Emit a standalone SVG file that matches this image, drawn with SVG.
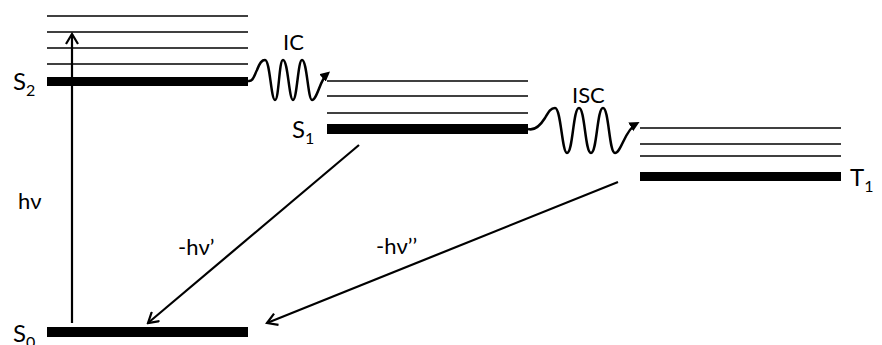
<svg xmlns="http://www.w3.org/2000/svg" width="882" height="345" viewBox="0 0 882 345">
<style>
.thin{stroke:#000;stroke-width:1.6}
.bar{fill:#000}
.lbl{font-family:Lato,"Liberation Sans",sans-serif;fill:#000}
.big{font-size:24px}
.sub{font-size:16px}
.mid{font-size:22px}
.arr{stroke:#000;stroke-width:2.2;fill:none;marker-end:url(#open)}
.wave{stroke:#000;stroke-width:2.5;fill:none;marker-end:url(#solid)}
</style>
<defs>
<marker id="open" markerWidth="14" markerHeight="14" refX="12" refY="7" orient="auto" markerUnits="userSpaceOnUse"><path d="M2,1 L12,7 L2,13" fill="none" stroke="#000" stroke-width="2.2"/></marker>
<marker id="solid" markerWidth="12" markerHeight="12" refX="6" refY="5" orient="auto" markerUnits="userSpaceOnUse"><path d="M0,0 L10,5 L0,10 z" fill="#000"/></marker>
</defs>
<rect width="882" height="345" fill="#fff"/>
<g id="S2">
<line class="thin" x1="47" y1="16" x2="248" y2="16"/>
<line class="thin" x1="47" y1="32" x2="248" y2="32"/>
<line class="thin" x1="47" y1="48" x2="248" y2="48"/>
<line class="thin" x1="47" y1="64" x2="248" y2="64"/>
<rect class="bar" x="47" y="77" width="201" height="9"/>
<text class="lbl big" x="13" y="90">S<tspan class="sub" dy="6">2</tspan></text>
</g>
<g id="S1">
<line class="thin" x1="327" y1="81" x2="528" y2="81"/>
<line class="thin" x1="327" y1="96" x2="528" y2="96"/>
<line class="thin" x1="327" y1="113" x2="528" y2="113"/>
<rect class="bar" x="327" y="124" width="201" height="10"/>
<text class="lbl big" x="292" y="138">S<tspan class="sub" dy="6">1</tspan></text>
</g>
<g id="T1">
<line class="thin" x1="640" y1="128" x2="841" y2="128"/>
<line class="thin" x1="640" y1="144" x2="841" y2="144"/>
<line class="thin" x1="640" y1="156" x2="841" y2="156"/>
<rect class="bar" x="640" y="172" width="201" height="9"/>
<text class="lbl big" x="850" y="186">T<tspan class="sub" dy="6">1</tspan></text>
</g>
<g id="S0">
<rect class="bar" x="47" y="327" width="201" height="10"/>
<text class="lbl big" x="13" y="342">S<tspan class="sub" dy="6">0</tspan></text>
</g>
<g id="connectors">
<line class="arr" x1="72" y1="323" x2="72" y2="34"/>
<line class="arr" x1="359" y1="145" x2="148" y2="323"/>
<line class="arr" x1="618" y1="182" x2="267" y2="323"/>
<path class="wave" d="M248,81 C253,82 254,76 257,70 C260,62 262,60 265,60 C270,60 271,100 275,100 C279,100 279,60 283,60 C288,60 289,100 293,100 C297,100 298,60 302,60 C307,60 308,100 312,100 C317,100 320,80 327,74"/>
<path class="wave" d="M528,129 C535,131 540,126 545,118 C549,111 551,108 555,108 C561,108 562,153 567,153 C573,153 573,108 579,108 C585,108 585,153 591,153 C597,153 597,108 603,108 C609,108 609,153 615,153 C621,153 625,130 636,124"/>
<text class="lbl mid" x="283" y="50">IC</text>
<text class="lbl mid" x="572" y="103">ISC</text>
<text class="lbl mid" x="18" y="209">hν</text>
<text class="lbl mid" x="178" y="255">-hν’</text>
<text class="lbl mid" x="376" y="254">-hν’’</text>
</g>
</svg>
